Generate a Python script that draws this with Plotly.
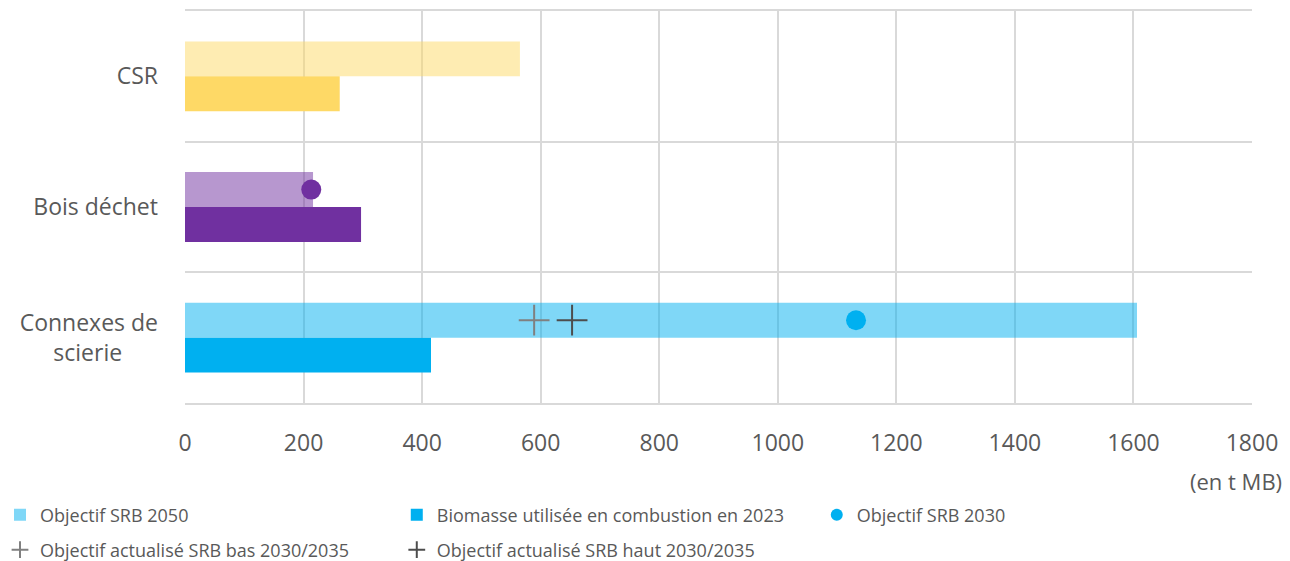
import plotly.graph_objects as go

# Data (categories listed bottom to top)
categories = ["Connexes de scierie", "Bois déchet", "CSR"]
tick_labels = ["Connexes de<br>scierie" + "\u00a0" * 6, "Bois déchet", "CSR"]
objectif_2050 = [1606, 216, 565]
biomasse_2023 = [415, 297, 261]
objectif_2030 = [1132, 213, None]
objectif_bas = [589, None, None]
objectif_haut = [653, None, None]
base_colors = ["#00B0F0", "#7030A0", "#FED966"]
light_colors = ["rgba(0,176,240,0.5)", "rgba(112,48,160,0.5)", "rgba(254,217,102,0.5)"]
x_ticks = [0, 200, 400, 600, 800, 1000, 1200, 1400, 1600, 1800]

BAR_W = 0.267
pos = list(range(len(categories)))
top_center = [p + BAR_W / 2 for p in pos]

FONT = "Open Sans"
GREY = "#595959"
GRID = "#D9D9D9"

fig = go.Figure()
fig.add_trace(go.Bar(
    y=pos, x=objectif_2050, orientation="h", width=BAR_W, offset=0,
    marker=dict(color=light_colors, line=dict(width=0)),
    name="Objectif SRB 2050", legend="legend", showlegend=True,
))
fig.add_trace(go.Bar(
    y=pos, x=biomasse_2023, orientation="h", width=BAR_W, offset=-BAR_W,
    marker=dict(color=base_colors, line=dict(width=0)),
    name="Biomasse utilisée en combustion en 2023", legend="legend2", showlegend=True,
))
fig.add_trace(go.Scatter(
    y=top_center, x=objectif_2030, mode="markers",
    marker=dict(symbol="circle", size=20, color=base_colors),
    name="Objectif SRB 2030", legend="legend3", showlegend=True,
))
fig.add_trace(go.Scatter(
    y=top_center, x=objectif_bas, mode="markers",
    marker=dict(symbol="cross-thin", size=22, line=dict(width=2, color="#808080")),
    name="Objectif actualisé SRB bas 2030/2035", legend="legend4", showlegend=True,
))
fig.add_trace(go.Scatter(
    y=top_center, x=objectif_haut, mode="markers",
    marker=dict(symbol="cross-thin", size=22, line=dict(width=2, color="#4D4D4D")),
    name="Objectif actualisé SRB haut 2030/2035", legend="legend5", showlegend=True,
))

legend_common = dict(
    orientation="h", xref="container", yref="container",
    yanchor="middle", xanchor="left",
    font=dict(size=18, color=GREY), bgcolor="rgba(0,0,0,0)", itemwidth=30,
    itemsizing="constant",
)
ROW1 = 1 - 515 / 561
ROW2 = 1 - 550 / 561
SHIFT = -0.018

fig.update_layout(
    width=1290, height=561,
    margin=dict(l=185, r=38, t=9, b=158),
    plot_bgcolor="white", paper_bgcolor="white",
    barmode="overlay",
    showlegend=True,
    font=dict(family=FONT, color=GREY),
    xaxis=dict(
        range=[0, 1800], tickvals=x_ticks, showgrid=True, gridcolor=GRID, gridwidth=2,
        zeroline=False, showline=True, mirror=True, linecolor=GRID, linewidth=2,
        tickfont=dict(size=23, color=GREY), ticks="", ticklabelstandoff=18,
    ),
    yaxis=dict(
        range=[-0.5, 2.5], tickvals=pos, ticktext=tick_labels, showgrid=False,
        zeroline=False, ticks="", tickfont=dict(size=23, color=GREY),
        ticklabelstandoff=26,
        minor=dict(tick0=0.5, dtick=1, showgrid=True, gridcolor=GRID, gridwidth=2),
    ),
    legend=dict(legend_common, x=SHIFT, y=ROW1),
    legend2=dict(legend_common, x=SHIFT + 420 / 1290, y=ROW1),
    legend3=dict(legend_common, x=SHIFT + 840 / 1290, y=ROW1),
    legend4=dict(legend_common, x=SHIFT, y=ROW2),
    legend5=dict(legend_common, x=SHIFT + 420 / 1290, y=ROW2),
    annotations=[dict(
        text="(en t MB)", xref="paper", yref="paper", x=1.03, y=-0.2,
        xanchor="right", yanchor="middle", showarrow=False,
        font=dict(size=22, color=GREY, family=FONT),
    )],
)

fig.write_html("out.html", config={"displayModeBar": False},
               post_script="document.body.style.margin='0';")
